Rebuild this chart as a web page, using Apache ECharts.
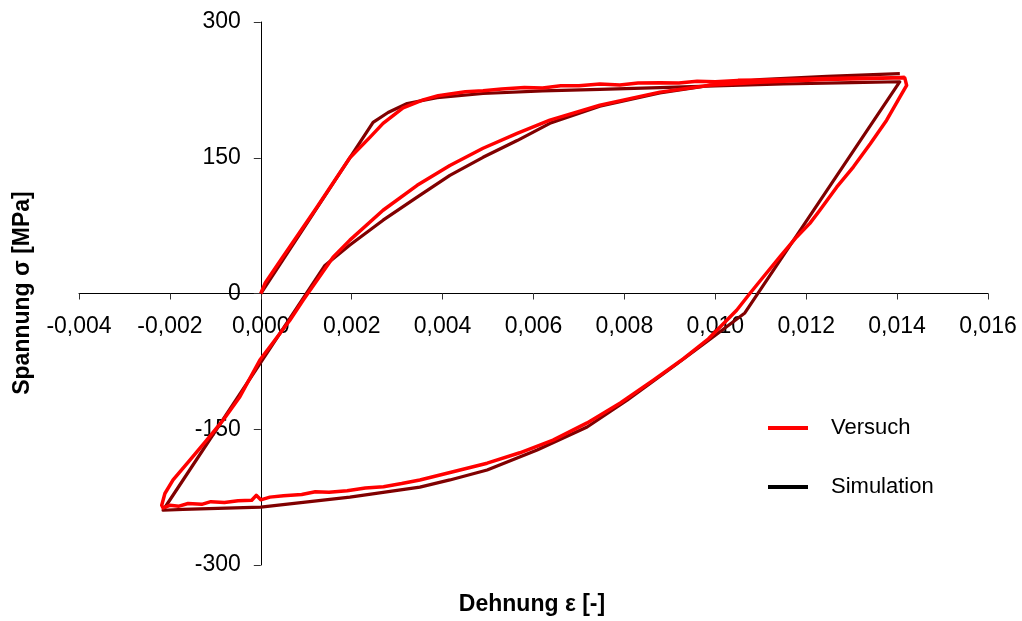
<!DOCTYPE html>
<html>
<head>
<meta charset="utf-8">
<script src="https://cdn.jsdelivr.net/npm/echarts@6/dist/echarts.min.js"></script>
<style>
html,body{margin:0;padding:0;background:#fff;}
#chart{width:1022px;height:621px;}
</style>
</head>
<body>
<div id="chart"></div>
<script>
// ---- data (strain [-], stress [MPa]) ----
var seriesNames = ['Versuch', 'Simulation'];
var xTicks = [-0.004, -0.002, 0, 0.002, 0.004, 0.006, 0.008, 0.010, 0.012, 0.014, 0.016];
var yTicks = [-300, -150, 0, 150, 300];
var xTitle = 'Dehnung ε [-]';
var yTitle = 'Spannung σ [MPa]';

var simStrain = [0, 0.00247, 0.00280, 0.00322, 0.00388, 0.00489, 0.00620, 0.00746, 0.00878, 0.01000, 0.01150, 0.01300, 0.01406,
  0.01065, 0.00995, 0.00907, 0.00806, 0.00718, 0.00608, 0.00498, 0.00416, 0.00350, 0.00196, 0.00000, -0.00171, -0.00215,
  0.00141, 0.00196, 0.00269, 0.00344, 0.00416, 0.00489, 0.00564, 0.00636, 0.00746, 0.00878, 0.00988, 0.01098, 0.01246, 0.01406];
var simStress = [0, 189, 200, 210, 216.5, 221, 224, 225.5, 227.5, 229.5, 231.5, 233, 234,
  -21.5, -48, -81, -118, -147.5, -173, -195, -206, -214, -225, -236, -238.5, -239.5,
  31, 53.5, 81, 106.5, 130.5, 150.5, 169, 188, 207, 221.5, 230, 236.4, 240, 243];

var expStrain = [0, 0.00010, 0.00048, 0.00123, 0.00196, 0.00240, 0.00269, 0.00313, 0.00357, 0.00390, 0.00416, 0.00450, 0.00489,
  0.00530, 0.00580, 0.00620, 0.00660, 0.00700, 0.00746, 0.00790, 0.00830, 0.00878, 0.00920, 0.00960, 0.01000, 0.01050, 0.01100,
  0.01150, 0.01200, 0.01250, 0.01300, 0.01350, 0.01390, 0.01417,
  0.01421, 0.01406, 0.01377, 0.01341, 0.01304, 0.01267, 0.01230, 0.01208, 0.01179, 0.01142, 0.01106, 0.01076, 0.01047, 0.00985,
  0.00930, 0.00863, 0.00791, 0.00718, 0.00643, 0.00570, 0.00498, 0.00423, 0.00350, 0.00310, 0.00270, 0.00230, 0.00190, 0.00150,
  0.00120, 0.00090, 0.00050, 0.00020, 0.00000, -0.00010, -0.00020, -0.00050, -0.00080, -0.00110, -0.00130, -0.00160, -0.00180,
  -0.00200, -0.00215, -0.00218, -0.00211, -0.00193, -0.00156, -0.00119, -0.00083, -0.00046, -0.00002, 0.00064, 0.00093, 0.00159,
  0.00196, 0.00269, 0.00344, 0.00416, 0.00489, 0.00564, 0.00636, 0.00746, 0.00878, 0.00988, 0.01098, 0.01245, 0.01391, 0.01417];
var expStress = [0, 12, 40, 95, 150, 172.5, 188, 205, 214, 218.5, 220.5, 223, 224,
  226, 227.5, 227, 229.5, 229.5, 231.5, 230.5, 232.5, 233, 232.5, 234.5, 234, 235.5, 236,
  236.5, 237, 237.5, 238, 238, 238.5, 238,
  230, 217, 191.5, 165.5, 140, 117.5, 92, 77.5, 62.5, 40.5, 18.5, 0, -18.5, -50,
  -72, -96, -121, -143, -162, -176, -187.5, -197, -206, -210, -213.5, -215, -218, -219.5,
  -219, -222, -223.5, -225, -228, -223, -228.5, -229, -231, -230, -233, -232, -235,
  -234, -237, -234, -221, -206, -184, -162, -140, -114, -73.5, -29.5, -7.5, 40,
  59, 92, 119.5, 141.5, 160.5, 177, 191.5, 208, 222.5, 230, 233.5, 236.5, 238, 239];

function pairs(xs, ys) {
  var out = [];
  for (var i = 0; i < xs.length; i++) out.push([xs[i], ys[i]]);
  return out;
}

var W = 1022, H = 621;
var G = {left: 79, right: 34, top: 22, bottom: 56};
var gw = W - G.left - G.right, gh = H - G.top - G.bottom;
var xMin = xTicks[0], xMax = xTicks[xTicks.length - 1];
var yMin = yTicks[0], yMax = yTicks[yTicks.length - 1];
// shift axes so they cross at the origin (labels travel with them)
var xAxisOffset = -gh * (0 - yMin) / (yMax - yMin);
var yAxisOffset = -gw * (0 - xMin) / (xMax - xMin);

var chart = echarts.init(document.getElementById('chart'), null, {renderer: 'canvas'});
var font = '"Liberation Sans", Arial, sans-serif';
var option = {
  backgroundColor: '#ffffff',
  animation: false,
  grid: {left: G.left, right: G.right, top: G.top, bottom: G.bottom, containLabel: false},
  xAxis: {
    type: 'value', position: 'bottom', offset: xAxisOffset,
    min: xMin, max: xMax, interval: 0.002,
    splitLine: {show: false},
    axisLine: {onZero: false, lineStyle: {color: '#000', width: 1}},
    axisTick: {show: true, inside: false, length: 6, lineStyle: {color: '#333'}},
    axisLabel: {
      margin: 22, color: '#000', fontSize: 23, fontFamily: font, hideOverlap: false,
      formatter: function (v) { return v.toFixed(3).replace('.', ','); }
    }
  },
  yAxis: {
    type: 'value', position: 'left', offset: yAxisOffset,
    min: yMin, max: yMax, interval: 150,
    splitLine: {show: false},
    axisLine: {onZero: false, lineStyle: {color: '#000', width: 1}},
    axisTick: {show: true, inside: false, length: 7, lineStyle: {color: '#333'}},
    axisLabel: {margin: 20, color: '#000', fontSize: 23, fontFamily: font, hideOverlap: false}
  },
  legend: [
    {
      left: 763, top: 411, icon: 'rect', itemWidth: 40, itemHeight: 4,
      data: [{name: seriesNames[0], itemStyle: {color: '#ff0000'}}],
      textStyle: {fontSize: 22, fontFamily: font, color: '#000', padding: [0, 0, 0, 18], lineHeight: 24}
    },
    {
      left: 763, top: 470, icon: 'rect', itemWidth: 40, itemHeight: 4,
      data: [{name: seriesNames[1], itemStyle: {color: '#000000'}}],
      textStyle: {fontSize: 22, fontFamily: font, color: '#000', padding: [0, 0, 0, 18], lineHeight: 24}
    }
  ],
  graphic: [
    {
      type: 'text', x: 532, y: 605,
      style: {text: xTitle, font: 'bold 23px ' + font, fill: '#000', textAlign: 'center', textVerticalAlign: 'middle'}
    },
    {
      type: 'text', x: 23, y: 293, rotation: Math.PI / 2,
      style: {text: yTitle, font: 'bold 23px ' + font, fill: '#000', textAlign: 'center', textVerticalAlign: 'middle'}
    }
  ],
  series: [
    {
      name: seriesNames[1], type: 'line', data: pairs(simStrain, simStress),
      showSymbol: false, symbol: 'none', smooth: false,
      lineStyle: {color: '#800000', width: 3.2, join: 'round'}, itemStyle: {color: '#800000'}, z: 2
    },
    {
      name: seriesNames[0], type: 'line', data: pairs(expStrain, expStress),
      showSymbol: false, symbol: 'none', smooth: false,
      lineStyle: {color: '#ff0000', width: 3.5, join: 'round'}, itemStyle: {color: '#ff0000'}, z: 3
    }
  ]
};
chart.setOption(option);
</script>
</body>
</html>
